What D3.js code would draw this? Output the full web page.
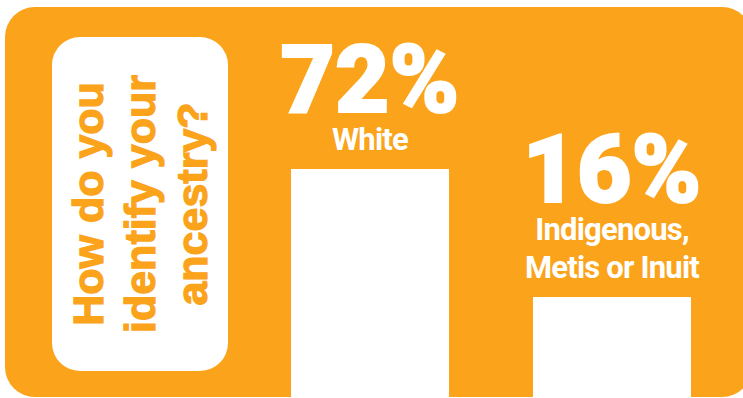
<!DOCTYPE html>
<html>
<head>
<meta charset="utf-8">
<script src="https://cdn.jsdelivr.net/npm/d3@7"></script>
<style>
  body { margin: 0; background: #fff; }
  svg { display: block; }
</style>
</head>
<body>
<svg width="743" height="398"></svg>
<script>
// categories and values
const categories = ['White', 'Indigenous, Metis or Inuit'];
const labelLines = [['White'], ['Indigenous,', 'Metis or Inuit']];
const percents = [72, 16];
const titleLines = ['How do you', 'identify your', 'ancestry?'];

const W = 743, H = 398;
const orange = '#fba31a';

const svg = d3.select('svg');

// background panel
svg.append('rect')
    .attr('x', 5)
    .attr('y', 7)
    .attr('width', 747)
    .attr('height', 390)
    .attr('rx', 30)
    .attr('fill', orange);

// question box
svg.append('rect')
    .attr('x', 52)
    .attr('y', 37)
    .attr('width', 176)
    .attr('height', 334)
    .attr('rx', 28)
    .attr('fill', '#fff');

const title = svg.append('text')
    .attr('transform', 'translate(140,204) rotate(-90)')
    .attr('text-anchor', 'middle')
    .style('font-family', '"Liberation Sans", Arial, sans-serif')
    .style('font-weight', 700)
    .style('font-size', '43px')
    .attr('fill', orange)
    .attr('stroke', orange)
    .attr('stroke-width', 1.3);

titleLines.forEach((t, i) => {
    title.append('tspan')
        .attr('x', 0)
        .attr('y', -37 + i * 52)
        .text(t);
});

// scales
const x = d3.scaleBand()
    .domain(categories)
    .range([291, 691])
    .paddingInner(0.347)
    .paddingOuter(0);

const y = d3.scaleLinear()
    .domain([0, 100])
    .range([333.6, 105]);

// bars run off the bottom of the panel
svg.selectAll('rect.bar')
    .data(categories)
    .enter()
    .append('rect')
    .attr('class', 'bar')
    .attr('x', d => x(d))
    .attr('y', (d, i) => y(percents[i]))
    .attr('width', x.bandwidth())
    .attr('height', (d, i) => H + 10 - y(percents[i]))
    .attr('fill', '#fff');

// labels above each bar
categories.forEach((c, i) => {
    const cx = x(c) + x.bandwidth() / 2;
    const top = y(percents[i]);
    const lines = labelLines[i];
    const lastBase = top - 19.5;
    const firstBase = lastBase - (lines.length - 1) * 38;

    const lab = svg.append('text')
        .attr('text-anchor', 'middle')
        .style('font-family', 'Roboto, sans-serif')
        .style('font-weight', 700)
        .style('font-size', '31px')
        .style('letter-spacing', '-0.8px')
        .attr('fill', '#fff');
    lines.forEach((l, j) => {
        lab.append('tspan')
            .attr('x', cx)
            .attr('y', firstBase + j * 38)
            .text(l);
    });

    svg.append('text')
        .attr('x', cx)
        .attr('y', firstBase - 38)
        .attr('text-anchor', 'middle')
        .style('font-family', 'Roboto, sans-serif')
        .style('font-weight', 900)
        .style('font-size', '94px')
        .style('letter-spacing', '0px')
        .attr('fill', '#fff')
        .attr('stroke', '#fff')
        .attr('stroke-width', 2)
        .text(percents[i] + '%');
});
</script>
</body>
</html>
